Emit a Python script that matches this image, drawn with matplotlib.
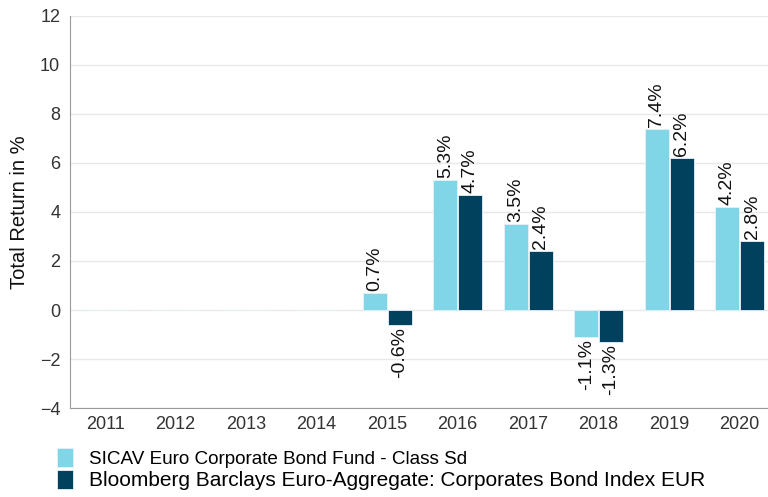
import matplotlib as mpl
import numpy as np

mpl.use("Agg")
import matplotlib.pyplot as plt  # noqa: E402

plt.rcParams["font.family"] = ["Liberation Sans", "DejaVu Sans"]

years = ["2011", "2012", "2013", "2014", "2015", "2016", "2017", "2018", "2019", "2020"]
fund = [np.nan, np.nan, np.nan, np.nan, 0.7, 5.3, 3.5, -1.1, 7.4, 4.2]
index = [np.nan, np.nan, np.nan, np.nan, -0.6, 4.7, 2.4, -1.3, 6.2, 2.8]
names = ["SICAV Euro Corporate Bond Fund - Class Sd",
         "Bloomberg Barclays Euro-Aggregate: Corporates Bond Index EUR"]
C_FUND, C_IDX = "#80d5e7", "#02415e"

fig = plt.figure(figsize=(7.68, 4.97), dpi=100)
# plot area runs slightly past the right edge of the image, like the reference
ax = fig.add_axes([0.091, 0.179, 0.918, 0.789])

x = np.arange(len(years))
w = 0.34
for vals, off, col, lab in ((fund, -w / 2 - 0.006, C_FUND, names[0]),
                            (index, w / 2 + 0.006, C_IDX, names[1])):
    v = np.array(vals, dtype=float)
    ax.bar(x + off, np.nan_to_num(v), w, color=col, edgecolor="#e6f2f6", linewidth=0.6,
           label=lab, zorder=3)
    for xi, vi in zip(x + off, v):
        if np.isfinite(vi):
            pad = 0.08 if vi >= 0 else -0.08
            ax.text(xi, vi + pad, f"{vi:.1f}%", rotation=90, ha="center",
                    va="bottom" if vi >= 0 else "top", fontsize=14, color="#111111")

ax.set_xlim(-0.5, len(years) - 0.5)
ax.set_ylim(-4, 12)
ax.set_yticks(range(-4, 13, 2))
ax.set_xticks(x)
ax.set_xticklabels(years)
ax.tick_params(length=0, labelsize=13, colors="#333333")
ax.tick_params(axis="x", pad=6)
ax.tick_params(axis="y", pad=7)
ax.grid(axis="y", color="#e8e8e8", lw=1, zorder=0)
for s in ("top", "right"):
    ax.spines[s].set_visible(False)
for s in ("left", "bottom"):
    ax.spines[s].set_color("#9a9a9a")
ax.set_ylabel("Total Return in %", fontsize=14.5, color="#111111", labelpad=8)

leg = fig.legend(loc="upper left", bbox_to_anchor=(0.074, 0.099), frameon=False, fontsize=13.6,
                 handlelength=0.85, handleheight=1.16, handletextpad=0.85, labelspacing=0.15,
                 borderpad=0, borderaxespad=0)
leg.get_texts()[1].set_fontsize(15)  # the reference renders this row a bit wider

fig.savefig("out.png", dpi=100)
